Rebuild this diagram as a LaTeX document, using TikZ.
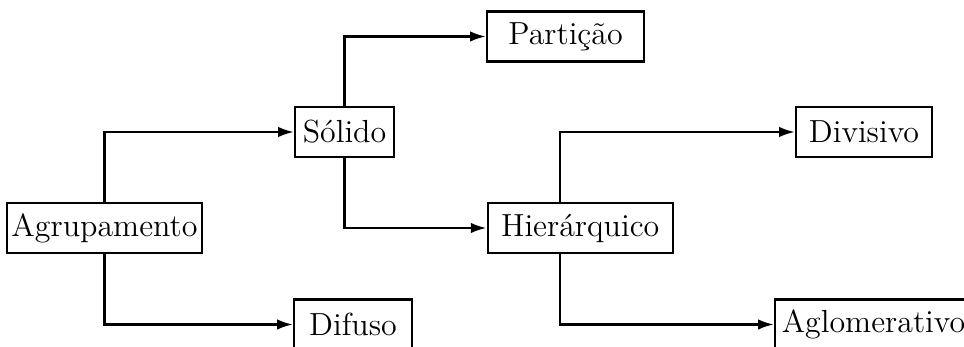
\documentclass[tikz,border=0pt]{standalone}
\usetikzlibrary{arrows.meta}
\newcommand\pxunit{0.3817pt}
\tikzset{
  box/.style={draw, line width=0.9pt, inner sep=0pt, minimum height=50*\pxunit,
    font=\fontsize{12.2}{14}\selectfont, align=center},
  arr/.style={line width=0.85pt, -{Latex[length=6pt,width=4pt]}}
}
\begin{document}
\begin{tikzpicture}[x=\pxunit, y=-\pxunit]
\clip (0,0) rectangle (964,347);
\useasboundingbox (0,0) rectangle (964,347);
\node[box, minimum width=195*\pxunit] (agr) at (104.5,228) {Agrupamento};
\node[box, minimum width=99*\pxunit] (sol) at (344.5,132) {Sólido};
\node[box, minimum width=157*\pxunit] (par) at (565.5,36.5) {Partição};
\node[box, minimum width=185*\pxunit] (hie) at (580.2,228) {Hierárquico};
\node[box, minimum width=136*\pxunit] (div) at (864,132) {Divisivo};
\node[box, minimum width=118*\pxunit] (dif) at (353,324.5) {Difuso};
\node[box, minimum width=197*\pxunit] (agl) at (873.5,324.5) {Aglomerativo};
\draw[arr] (agr.north) |- (sol);
\draw[arr] (agr.south) |- (dif);
\draw[arr] (sol.north) |- (par);
\draw[arr] (sol.south) |- (hie);
\draw[arr] ([xshift=-20*\pxunit]hie.north) |- (div);
\draw[arr] ([xshift=-20*\pxunit]hie.south) |- (agl);
\end{tikzpicture}
\end{document}
